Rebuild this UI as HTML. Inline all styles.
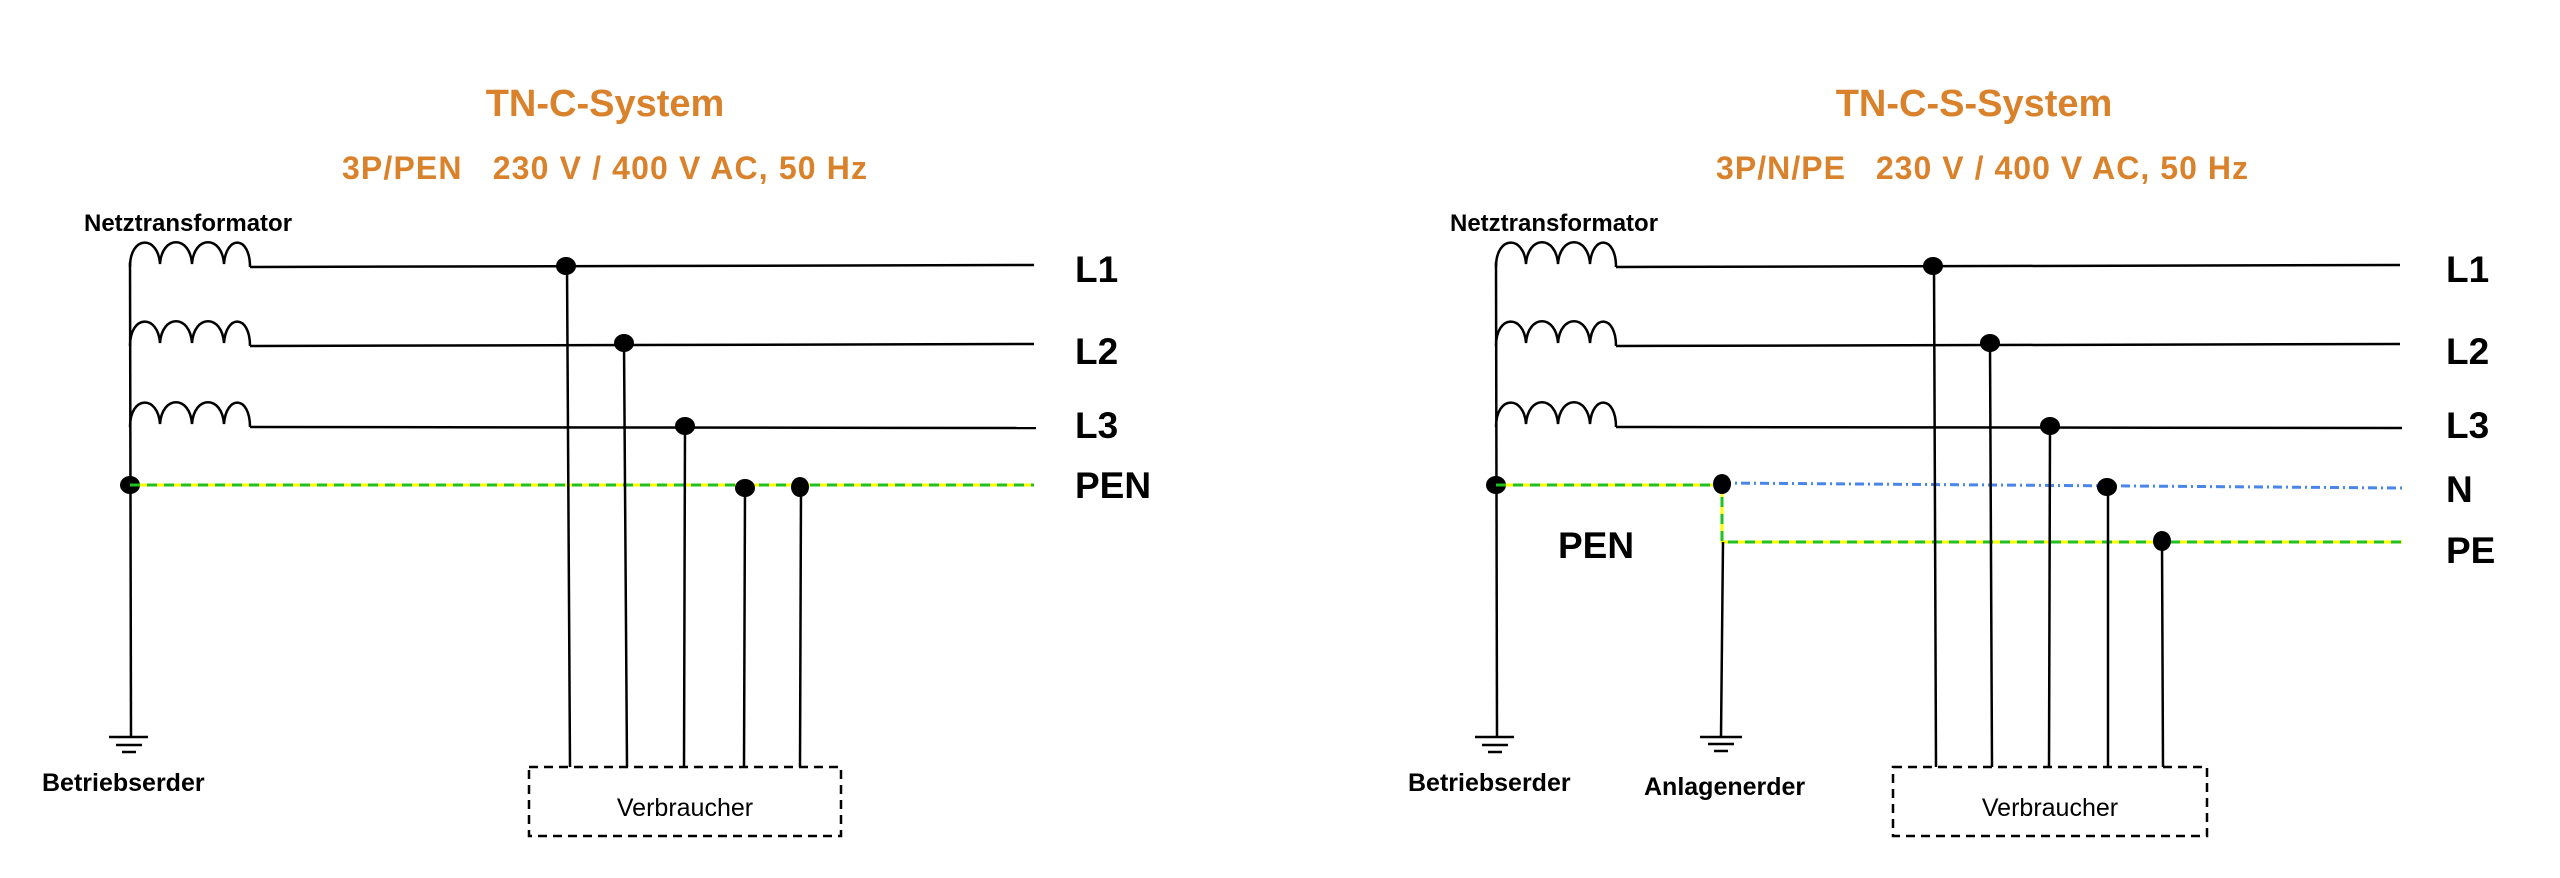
<!DOCTYPE html>
<html><head><meta charset="utf-8"><style>
html,body{margin:0;padding:0;background:#fff;}
svg{display:block;}
.t{font-family:"Liberation Sans",Arial,sans-serif;}
</style></head><body>
<svg width="2560" height="878" viewBox="0 0 2560 878" xmlns="http://www.w3.org/2000/svg">
<defs>
<g id="common">
  <g fill="none" stroke="#000" stroke-width="2.5">
    <path d="M130,267 C130,235 158,235 160,264 C162,235 190,235 192,264 C194,235 222,235 224,264 C226,235 250,235 250,267"/>
    <path d="M130,346 C130,314 158,314 160,343 C162,314 190,314 192,343 C194,314 222,314 224,343 C226,314 250,314 250,346"/>
    <path d="M130,427 C130,395 158,395 160,424 C162,395 190,395 192,424 C194,395 222,395 224,424 C226,395 250,395 250,427"/>
    <line x1="130" y1="262" x2="131" y2="737"/>
    <line x1="250" y1="267" x2="1034" y2="265"/>
    <line x1="250" y1="346" x2="1034" y2="344"/>
    <line x1="250" y1="427" x2="1036" y2="428"/>
    <line x1="109" y1="737" x2="148" y2="737"/>
    <line x1="116" y1="745" x2="142" y2="745"/>
    <line x1="122" y1="752" x2="136" y2="752"/>
  </g>
  <text class="t" x="84" y="231" font-size="24" font-weight="bold" fill="#000">Netztransformator</text>
  <text class="t" x="42" y="791" font-size="25" font-weight="bold" fill="#000">Betriebserder</text>
  <ellipse cx="130" cy="485" rx="10" ry="9"/>
</g>
</defs>

<!-- LEFT -->
<text class="t" x="605" y="116" text-anchor="middle" font-size="38" font-weight="bold" fill="#d9822b">TN-C-System</text>
<text class="t" x="342" y="179" font-size="32" font-weight="bold" fill="#d9822b" textLength="525" lengthAdjust="spacing" xml:space="preserve">3P/PEN   230 V / 400 V AC, 50 Hz</text>
<use href="#common"/>
<line x1="130" y1="485" x2="1034" y2="485" stroke="#ffff00" stroke-width="3"/>
<line x1="130" y1="485" x2="1034" y2="485" stroke="#22c022" stroke-width="3" stroke-dasharray="10,7"/>
<g stroke="#000" stroke-width="2.5">
  <line x1="567" y1="266" x2="570" y2="767"/>
  <line x1="624" y1="344" x2="627" y2="767"/>
  <line x1="685" y1="426" x2="684" y2="767"/>
  <line x1="745" y1="488" x2="744" y2="767"/>
  <line x1="801" y1="487" x2="800" y2="767"/>
</g>
<ellipse cx="566" cy="266" rx="10" ry="9"/>
<ellipse cx="624" cy="343" rx="10" ry="9"/>
<ellipse cx="685" cy="426" rx="10" ry="9"/>
<ellipse cx="745" cy="488" rx="10" ry="9"/>
<ellipse cx="800" cy="487" rx="9" ry="10"/>
<rect x="529" y="767" width="312" height="69" fill="none" stroke="#000" stroke-width="2.5" stroke-dasharray="9,6"/>
<text class="t" x="685" y="816" text-anchor="middle" font-size="25" fill="#000">Verbraucher</text>
<g class="t" font-size="37" font-weight="bold" fill="#000">
  <text x="1075" y="282">L1</text>
  <text x="1075" y="364">L2</text>
  <text x="1075" y="438">L3</text>
  <text x="1075" y="498">PEN</text>
</g>

<!-- RIGHT -->
<g transform="translate(-8,0)">
<text class="t" x="1982" y="116" text-anchor="middle" font-size="38" font-weight="bold" fill="#d9822b">TN-C-S-System</text>
<text class="t" x="1724" y="179" font-size="32" font-weight="bold" fill="#d9822b" textLength="532" lengthAdjust="spacing" xml:space="preserve">3P/N/PE   230 V / 400 V AC, 50 Hz</text>
<g transform="translate(1374,0)"><use href="#common"/></g>
<path d="M1504,485 L1730,485 L1730,542 L2410,542" fill="none" stroke="#ffff00" stroke-width="3"/>
<path d="M1504,485 L1730,485 L1730,542 L2410,542" fill="none" stroke="#22c022" stroke-width="3" stroke-dasharray="10,7"/>
<line x1="1730" y1="483" x2="2410" y2="488" stroke="#4a86e8" stroke-width="3" stroke-dasharray="9,4,2,4"/>
<g stroke="#000" stroke-width="2.5">
  <line x1="1731" y1="542" x2="1729" y2="737"/>
  <line x1="1708" y1="737" x2="1750" y2="737"/>
  <line x1="1716" y1="744" x2="1742" y2="744"/>
  <line x1="1722" y1="751" x2="1736" y2="751"/>
  <line x1="1942" y1="266" x2="1944" y2="767"/>
  <line x1="1998" y1="344" x2="2000" y2="767"/>
  <line x1="2058" y1="426" x2="2057" y2="767"/>
  <line x1="2116" y1="487" x2="2116" y2="767"/>
  <line x1="2170" y1="542" x2="2171" y2="767"/>
</g>
<ellipse cx="1730" cy="484" rx="9" ry="10"/>
<ellipse cx="1941" cy="266" rx="10" ry="9"/>
<ellipse cx="1998" cy="343" rx="10" ry="9"/>
<ellipse cx="2058" cy="426" rx="10" ry="9"/>
<ellipse cx="2115" cy="487" rx="10" ry="9"/>
<ellipse cx="2170" cy="541" rx="9" ry="10"/>
<rect x="1901" y="767" width="314" height="69" fill="none" stroke="#000" stroke-width="2.5" stroke-dasharray="9,6"/>
<text class="t" x="2058" y="816" text-anchor="middle" font-size="25" fill="#000">Verbraucher</text>
<text class="t" x="1652" y="795" font-size="25" font-weight="bold" fill="#000">Anlagenerder</text>
<g class="t" font-size="37" font-weight="bold" fill="#000">
  <text x="1566" y="558">PEN</text>
  <text x="2454" y="282">L1</text>
  <text x="2454" y="364">L2</text>
  <text x="2454" y="438">L3</text>
  <text x="2454" y="502">N</text>
  <text x="2454" y="563">PE</text>
</g>
</g>
</svg>
</body></html>
